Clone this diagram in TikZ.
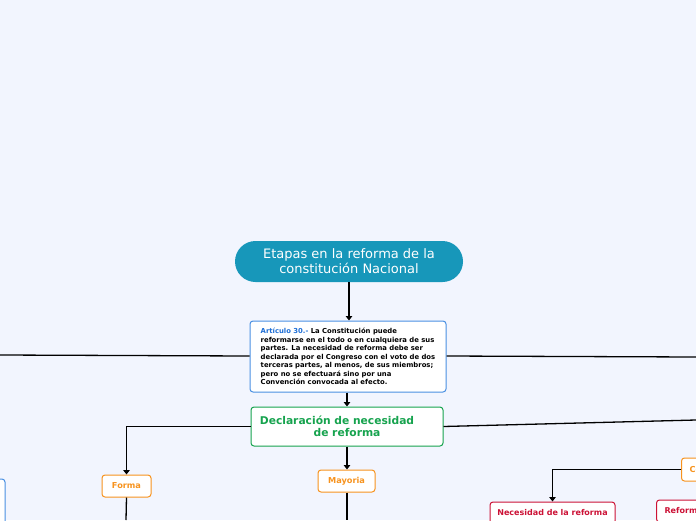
\documentclass[tikz,border=0pt]{standalone}
\usepackage{fontspec}
\setmainfont{DejaVu Sans}
\usetikzlibrary{arrows.meta,positioning,calc}
\definecolor{bg}{HTML}{F2F5FE}
\definecolor{rootc}{HTML}{1797BA}
\definecolor{bluec}{HTML}{4A90E2}
\definecolor{artblue}{HTML}{1F6FD6}
\definecolor{greenc}{HTML}{16A34E}
\definecolor{orangec}{HTML}{F7931E}
\definecolor{redc}{HTML}{CC1236}
\tikzset{
  box/.style={draw, fill=white, rounded corners=3pt, line width=1pt, inner sep=0pt, align=center},
  orangebox/.style={box, draw=orangec, text=orangec, font=\fontsize{8.2}{9}\selectfont\bfseries},
  redbox/.style={box, draw=redc, text=redc, font=\fontsize{8}{9}\selectfont\bfseries},
  conn/.style={line width=1.3pt, black},
  arr/.style={conn, -{Triangle[length=4.5pt,width=6.5pt]}},
}
\begin{document}
\begin{tikzpicture}[x=1pt,y=-1pt]
\fill[bg] (0,0) rectangle (696,520);
\useasboundingbox (0,0) rectangle (696,520);
\clip (0,0) rectangle (696,520);

% nodes
\node[fill=rootc, rounded corners=20.5pt, minimum width=228pt, minimum height=41pt, inner sep=0pt,
      text=white, align=center, font=\fontsize{13}{15}\selectfont] (root) at (349,261.5)
  {Etapas en la reforma de la\\constitución Nacional};

\node[box, draw=bluec, minimum width=196pt, minimum height=71pt, align=left,
      font=\fontsize{6.85}{8.5}\selectfont\bfseries] (art) at (348,356.5)
  {\textcolor{artblue}{Artículo 30.-} La Constitución puede\\
   reformarse en el todo o en cualquiera de sus\\
   partes. La necesidad de reforma debe ser\\
   declarada por el Congreso con el voto de dos\\
   terceras partes, al menos, de sus miembros;\\
   pero no se efectuará sino por una\\
   Convención convocada al efecto.};

\node[box, draw=greenc, text=greenc, minimum width=192pt, minimum height=39pt,
      font=\fontsize{10.7}{12.5}\selectfont\bfseries] (decl) at (347,426.5)
  {Declaración de necesidad\hspace*{20pt}\\de reforma};

\node[orangebox, minimum width=49pt, minimum height=22pt] (forma) at (126.5,486) {Forma};
\node[orangebox, minimum width=57pt, minimum height=22pt] (mayoria) at (346.5,481) {Mayoria};

\node[box, draw=bluec, minimum width=110pt, minimum height=90pt] (leftbox) at (-50,524) {};

\node[orangebox, anchor=west, minimum height=23pt, inner xsep=8pt] (conv) at (681,469.5) {Convención};

\node[redbox, minimum width=125pt, minimum height=22pt] (neces) at (552.5,513) {Necesidad de la reforma};
\node[redbox, anchor=west, minimum height=22pt, inner xsep=8pt] (refor) at (656,511) {Reforma};

% free ends
\coordinate (L1) at (0,355);
\coordinate (R1) at (696,357);
\coordinate (R2) at (696,420);
\coordinate (Fb) at (126,520);
\coordinate (Mb) at (347,520);

% connectors
\draw[arr] (root.south) -- (art.north -| root.south);
\draw[conn] (art.west |- 0,356) -- (L1);
\draw[conn] (art.east |- 0,356) -- (R1);
\draw[arr] (art.south -| 347,0) -- (decl.north);
\draw[arr] (decl.west) -| (forma.north);
\draw[conn] (decl.east) -- (R2);
\draw[arr] (decl.south) -- (mayoria.north -| decl.south);
\draw[conn] (forma.south) -- (Fb);
\draw[conn] (mayoria.south -| Mb) -- (Mb);
\draw[arr] (conv.west) -| (neces.north);
\end{tikzpicture}
\end{document}
